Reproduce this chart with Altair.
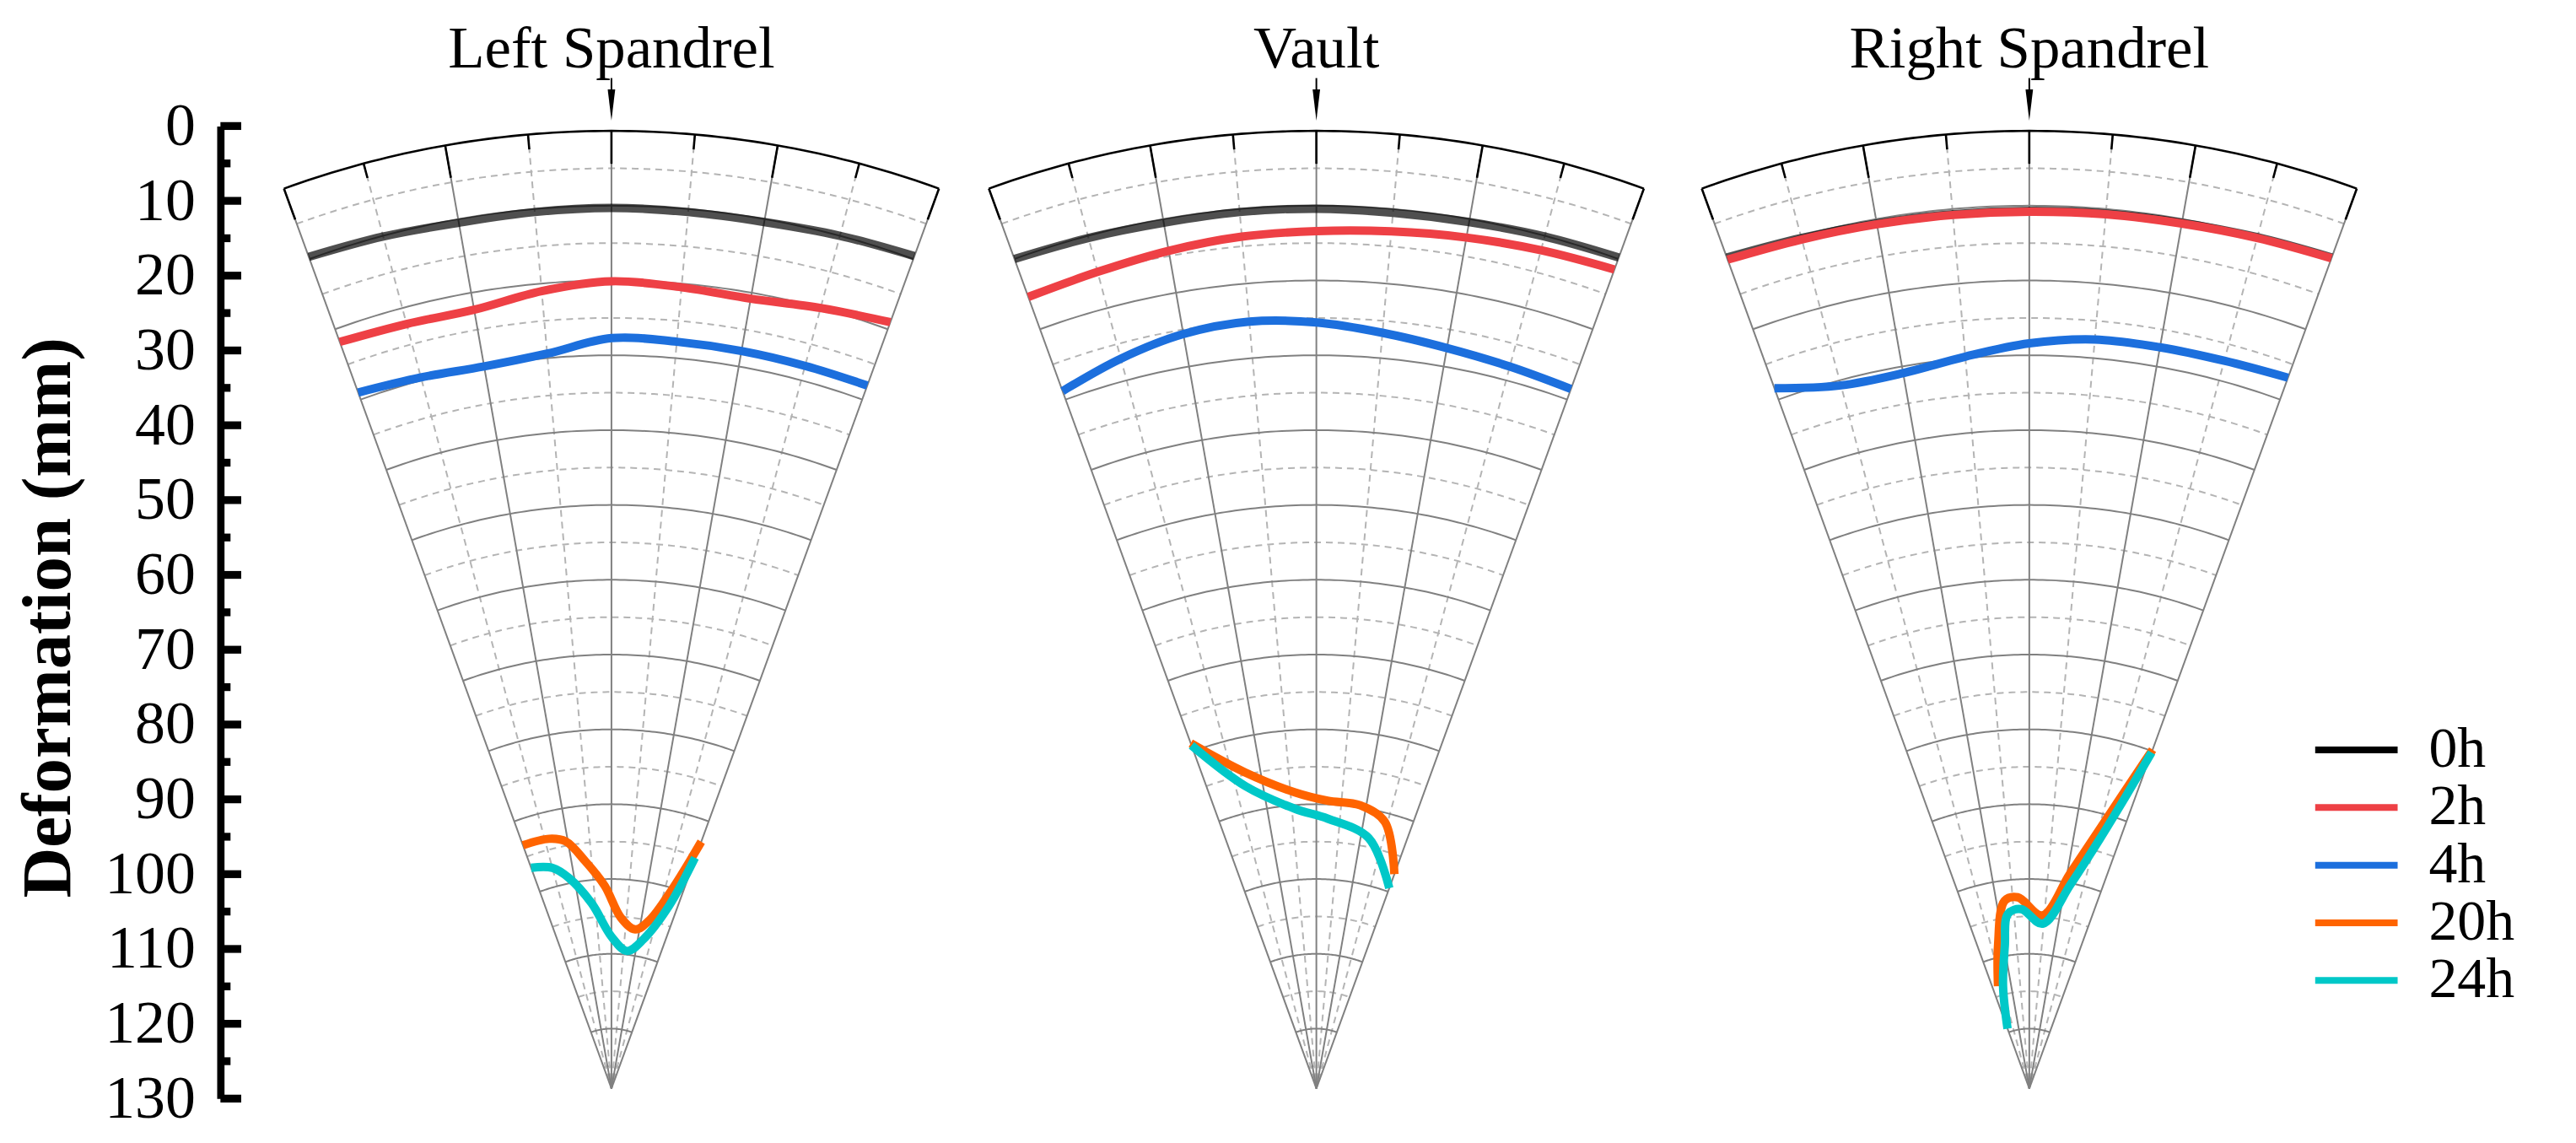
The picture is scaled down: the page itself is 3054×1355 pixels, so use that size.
import altair as alt
import pandas as pd

# ---------------- data ----------------
PANELS = ["Left Spandrel", "Vault", "Right Spandrel"]
SERIES = ["0h", "2h", "4h", "20h", "24h"]
COLORS = ["#000000", "#ee4045", "#1c6fdd", "#ff6400", "#00c8c8"]

ANG9 = [-20, -15, -10, -5, 0, 5, 10, 15, 20]

# Left Spandrel
LS_0H = [9.7, 10.1, 10.5, 10.4, 10.3, 10.4, 10.4, 10.0, 9.6]
LS_2H = [21.8, 22.2, 22.3, 21.0, 20.1, 20.5, 20.8, 20.0, 19.0]
LS_4H = [29.0, 29.6, 30.0, 29.4, 27.7, 27.8, 27.9, 28.0, 28.0]
LS_20H_ANG = [-20, -14, -10.5, -6.6, -1.9, 3.1, 8.5, 12.8, 17, 20]
LS_20H = [93.4, 93.6, 94.4, 97.4, 100.9, 105.1, 106.5, 104.9, 100.1, 92.9]
LS_24H_ANG = [-20, -14.9, -11.4, -6.1, 0, 6.5, 12.1, 17.5, 19.9]
LS_24H = [96.6, 97.5, 99.3, 103.1, 107.7, 109.5, 107.6, 102.4, 95.2]

# Vault
V_0H = [10.0, 10.3, 10.5, 10.4, 10.4, 10.5, 10.4, 10.1, 9.8]
V_2H = [15.4, 15.0, 14.3, 13.7, 13.4, 13.0, 12.5, 12.0, 11.5]
V_4H = [28.8, 27.0, 25.6, 25.1, 25.6, 26.6, 27.5, 28.1, 28.5]
V_20H_ANG = [-20, -12.7, -4.2, 2.2, 8.8, 14.4, 20]
V_20H = [78.9, 84.7, 88.3, 89.5, 89.7, 91.2, 97.5]
V_24H_ANG = [-20, -13.2, -4.4, 2.4, 11.8, 20]
V_24H = [79.2, 86.5, 90.5, 91.9, 93.8, 99.5]

# Right Spandrel
RS_0H = [9.8, 10.3, 10.6, 10.7, 10.7, 10.6, 10.5, 10.2, 9.8]
RS_2H = [10.1, 10.5, 10.7, 10.8, 10.8, 10.7, 10.6, 10.3, 9.9]
RS_4H = [28.4, 30.7, 30.9, 29.8, 28.4, 27.5, 27.4, 27.3, 26.9]
RS_20H_ANG = [-17, -12.3, -7.5, -3.4, 4.3, 10.7, 14.9, 17.8, 20]
RS_20H = [113.7, 108.4, 102.7, 102.4, 104.8, 98.8, 92.6, 86.3, 79.8]
RS_24H_ANG = [-20, -14.4, -9.7, -7, -2.6, 4.6, 11.4, 15.8, 18.3, 20]
RS_24H = [119.5, 113.9, 108.6, 104.5, 104.0, 105.9, 100.2, 93.3, 86.8, 80.2]

CURVES = {
    ("Left Spandrel", "0h"): (ANG9, LS_0H),
    ("Left Spandrel", "2h"): (ANG9, LS_2H),
    ("Left Spandrel", "4h"): (ANG9, LS_4H),
    ("Left Spandrel", "20h"): (LS_20H_ANG, LS_20H),
    ("Left Spandrel", "24h"): (LS_24H_ANG, LS_24H),
    ("Vault", "0h"): (ANG9, V_0H),
    ("Vault", "2h"): (ANG9, V_2H),
    ("Vault", "4h"): (ANG9, V_4H),
    ("Vault", "20h"): (V_20H_ANG, V_20H),
    ("Vault", "24h"): (V_24H_ANG, V_24H),
    ("Right Spandrel", "0h"): (ANG9, RS_0H),
    ("Right Spandrel", "2h"): (ANG9, RS_2H),
    ("Right Spandrel", "4h"): (ANG9, RS_4H),
    ("Right Spandrel", "20h"): (RS_20H_ANG, RS_20H),
    ("Right Spandrel", "24h"): (RS_24H_ANG, RS_24H),
}

Y_MAJOR = list(range(0, 131, 10))
Y_MINOR = list(range(5, 130, 10))
GRID_ANGLES = [-20, -15, -10, -5, 0, 5, 10, 15, 20]
ARC_VALUES = list(range(5, 126, 5))

# ---------------- layout ----------------
W, H = 2778, 1156
PX = H / 130.0
XMAX = W / PX
PANEL_X = [52.27, 146.5, 241.8]   # fan centres, axis units
R = 128.0                          # fan radius (deformation units)
Y_TOP = 0.65                       # axis value of the fan's outer arc
FONT = "Liberation Serif"
LEG_Y0, LEG_DY = 83.4, 7.7

XS = alt.Scale(domain=[0, XMAX], nice=False, zero=False)
YS = alt.Scale(domain=[0, 130], reverse=True, nice=False, zero=False)

Y_AXIS = alt.Axis(
    values=Y_MAJOR, format="d", ticks=False, grid=False,
    domainColor="black", domainWidth=8.7,
    labelFont=FONT, labelFontSize=72, labelColor="black", labelPadding=30,
    labelFlush=False, labelOverlap=False,
    title="Deformation (mm)", titleFont=FONT, titleFontSize=83,
    titleFontWeight="bold", titleColor="black",
    titleAngle=270, titleX=-204, titleY=584,
    titleAlign="center", titleBaseline="middle")


def X(f):
    return alt.X(f, type="quantitative", scale=XS, axis=None)


def Y(f):
    return alt.Y(f, type="quantitative", scale=YS, axis=Y_AXIS)


cx = dict(zip(PANELS, PANEL_X))
PX_EXPR = f"datum.cx + ({R} - datum.d) * sin(datum.theta * PI / 180)"
PY_EXPR = f"{Y_TOP} + {R} - ({R} - datum.d) * cos(datum.theta * PI / 180)"

# ----- grid: radial lines -----
rad = pd.DataFrame([{"cx": c, "theta": a, "major": a % 10 == 0}
                    for c in PANEL_X for a in GRID_ANGLES])
rad_base = alt.Chart(rad).transform_calculate(
    x=f"datum.cx + {R} * sin(datum.theta * PI / 180)",
    y=f"{Y_TOP} + {R} - {R} * cos(datum.theta * PI / 180)",
    x2="datum.cx", y2=f"{Y_TOP} + {R}")
rad_major = rad_base.transform_filter("datum.major").mark_rule(
    color="#808080", strokeWidth=2).encode(x=X("x"), y=Y("y"), x2="x2:Q", y2="y2:Q")
rad_minor = rad_base.transform_filter("!datum.major").mark_rule(
    color="#b4b4b4", strokeWidth=2, strokeDash=[8, 6]).encode(
    x=X("x"), y=Y("y"), x2="x2:Q", y2="y2:Q")

# ----- grid: arcs -----
steps = [i * 0.5 - 20 for i in range(81)]
arc_rows = []
for pi, c in enumerate(PANEL_X):
    for v in [0] + ARC_VALUES:
        for k, a in enumerate(steps):
            arc_rows.append({"cx": c, "d": v, "theta": a, "k": k,
                             "key": f"{pi}-{v}",
                             "kind": "top" if v == 0 else ("solid" if v % 10 == 0 else "dash")})
arcs = pd.DataFrame(arc_rows)
arc_base = alt.Chart(arcs).transform_calculate(x=PX_EXPR, y=PY_EXPR)
arc_dash = arc_base.transform_filter("datum.kind == 'dash'").mark_line(
    color="#b4b4b4", strokeWidth=2, strokeDash=[8, 6]).encode(
    x=X("x"), y=Y("y"), detail="key:N", order="k:Q")
arc_solid = arc_base.transform_filter("datum.kind == 'solid'").mark_line(
    color="#808080", strokeWidth=2).encode(
    x=X("x"), y=Y("y"), detail="key:N", order="k:Q")
arc_top = arc_base.transform_filter("datum.kind == 'top'").mark_line(
    color="#000000", strokeWidth=2.6).encode(
    x=X("x"), y=Y("y"), detail="key:N", order="k:Q")

# ----- angular ticks on outer arc -----
tk = pd.DataFrame([{"cx": c, "theta": a, "len": 4.4 if a % 10 == 0 else 2.0}
                   for c in PANEL_X for a in GRID_ANGLES])
ticks = alt.Chart(tk).transform_calculate(
    x=f"datum.cx + {R} * sin(datum.theta * PI / 180)",
    y=f"{Y_TOP} + {R} - {R} * cos(datum.theta * PI / 180)",
    x2=f"datum.cx + ({R} - datum.len) * sin(datum.theta * PI / 180)",
    y2=f"{Y_TOP} + {R} - ({R} - datum.len) * cos(datum.theta * PI / 180)",
).mark_rule(color="#000000", strokeWidth=2.6).encode(
    x=X("x"), y=Y("y"), x2="x2:Q", y2="y2:Q")

# ----- y axis inward ticks -----
axis_df = pd.DataFrame({"v": Y_MAJOR})
y_major = alt.Chart(axis_df).mark_rule(color="black", strokeWidth=9.3).encode(
    y=Y("v"), x=alt.value(0), x2=alt.value(24.7))
minor_df = pd.DataFrame({"v": Y_MINOR})
y_minor = alt.Chart(minor_df).mark_rule(color="black", strokeWidth=9.3).encode(
    y=Y("v"), x=alt.value(0), x2=alt.value(12))

# ----- curves -----
rows = []
for (panel, s), (angs, vals) in CURVES.items():
    for i, (a, v) in enumerate(zip(angs, vals)):
        rows.append({"panel": panel, "series": s, "cx": cx[panel],
                     "theta": a, "d": v, "i": i})
cdf = pd.DataFrame(rows)
color_scale = alt.Scale(domain=SERIES, range=COLORS)
curve_layers = []
for s in SERIES:
    curve_layers.append(
        alt.Chart(cdf).transform_filter(alt.datum.series == s)
        .transform_calculate(x=PX_EXPR, y=PY_EXPR)
        .mark_line(strokeWidth=10, interpolate="catmull-rom",
                   strokeOpacity=0.69 if s == "0h" else 1.0)
        .encode(x=X("x"), y=Y("y"),
                color=alt.Color("series:N", scale=color_scale, legend=None),
                detail="panel:N", order="i:Q"))

# ----- panel titles and arrows -----
pan = pd.DataFrame({"panel": PANELS, "x": PANEL_X})
titles = alt.Chart(pan).mark_text(font=FONT, fontSize=71, color="black",
                                  baseline="alphabetic", align="center").encode(
    x=X("x"), y=alt.value(-70), text="panel:N")
arrow_stem = alt.Chart(pan).mark_rule(color="black", strokeWidth=2).encode(
    x=X("x"), y=alt.value(-57), y2=alt.value(-42))
arrow_head = alt.Chart(pan).mark_point(
    shape="M -0.24 -1 L 0.24 -1 L 0 1 Z", size=1369, filled=True,
    color="black", opacity=1).encode(x=X("x"), y=alt.value(-25))

# ----- legend -----
leg = pd.DataFrame({"series": SERIES, "k": list(range(len(SERIES)))})
leg_base = alt.Chart(leg).transform_calculate(ly=f"{LEG_Y0} + datum.k * {LEG_DY}")
leg_lines = leg_base.mark_rule(strokeWidth=8).encode(
    y=Y("ly"), x=alt.value(2490), x2=alt.value(2588),
    color=alt.Color("series:N", scale=color_scale, legend=None))
leg_text = leg_base.mark_text(font=FONT, fontSize=68, color="black",
                              align="left", baseline="middle").encode(
    y=Y("ly"), x=alt.value(2625), text="series:N")

chart = alt.layer(
    arc_dash, rad_minor, arc_solid, rad_major, arc_top, ticks,
    *curve_layers,
    y_minor, y_major,
    titles, arrow_stem, arrow_head,
    leg_lines, leg_text,
).properties(
    width=W, height=H,
    autosize=alt.AutoSizeParams(type="none"),
    padding={"left": 254, "top": 140, "right": 14, "bottom": 50},
).configure(
    background="white",
    view=alt.ViewConfig(stroke="transparent", strokeWidth=0),
)

chart.save("out.html", embed_options={"renderer": "svg", "actions": False})
